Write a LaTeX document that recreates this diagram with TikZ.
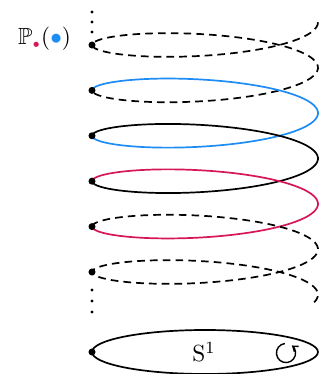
\documentclass[tikz,border=0pt]{standalone}
\usepackage{amssymb}
\usetikzlibrary{arrows.meta}
\definecolor{crim}{RGB}{214,22,88}
\definecolor{dblue}{RGB}{30,140,245}
\begin{document}
\begin{tikzpicture}[x=0.47pt,y=-0.47pt,
  curve/.style={line width=0.8pt},
  dsh/.style={curve,dash pattern=on 3.6pt off 2.4pt},
  pt/.style={circle,fill=black,inner sep=0pt,minimum size=3.3pt},
  smalldot/.style={circle,fill=black,inner sep=0pt,minimum size=1.45pt},
  lbl/.style={font=\fontsize{11}{13}\selectfont}]
\useasboundingbox (0,0) rectangle (326,374);
% helix: x = 205 - 113 cos t, y = 45 + 45.4 t/360 - 22 sin t
\draw[dsh] plot[smooth,samples=110,domain=-180:360,variable=\t]
  ({205-113*cos(\t)},{45+45.4*(\t/360)-22*sin(\t)});
\draw[curve,dblue] plot[smooth,samples=80,domain=360:720,variable=\t]
  ({205-113*cos(\t)},{45+45.4*(\t/360)-22*sin(\t)});
\draw[curve,black] plot[smooth,samples=80,domain=720:1080,variable=\t]
  ({205-113*cos(\t)},{45+45.4*(\t/360)-22*sin(\t)});
\draw[curve,crim] plot[smooth,samples=80,domain=1080:1440,variable=\t]
  ({205-113*cos(\t)},{45+45.4*(\t/360)-22*sin(\t)});
\draw[dsh] plot[smooth,samples=110,domain=1440:1995,variable=\t]
  ({205-113*cos(\t)},{45+45.4*(\t/360)-22*sin(\t)});
% base circle
\draw[curve] (205,352) ellipse [x radius=53.1pt,y radius=10.34pt];
% points
\node[pt] (p0) at (92,45) {};
\node[pt] (p1) at (92,90.4) {};
\node[pt] (p2) at (92,135.8) {};
\node[pt] (p3) at (92,181.2) {};
\node[pt] (p4) at (92,226.6) {};
\node[pt] (p5) at (92,272) {};
\node[pt] (pb) at (92,352) {};
% vertical dots
\node[smalldot] (u1) at (92,12) {};
\node[smalldot] (u2) at (92,22) {};
\node[smalldot] (u3) at (92,32) {};
\node[smalldot] (d1) at (92,290) {};
\node[smalldot] (d2) at (92,301) {};
\node[smalldot] (d3) at (92,312) {};
% labels
\node[lbl] (lab) at (44.5,38.5) {$\mathbb{P}_{\scriptscriptstyle\textcolor{crim}{\bullet}}(\textcolor{dblue}{\bullet})$};
\node[lbl] (s1) at (204,352) {$\mathrm{S}^1$};
% rotation sign
\coordinate (rc) at (286,353);
\draw[line width=0.65pt,-{Straight Barb[length=2.2pt,width=3.2pt]}]
  ([shift={(97:4.5pt)}]rc) arc[start angle=97,end angle=412,radius=4.5pt];
\end{tikzpicture}
\end{document}
